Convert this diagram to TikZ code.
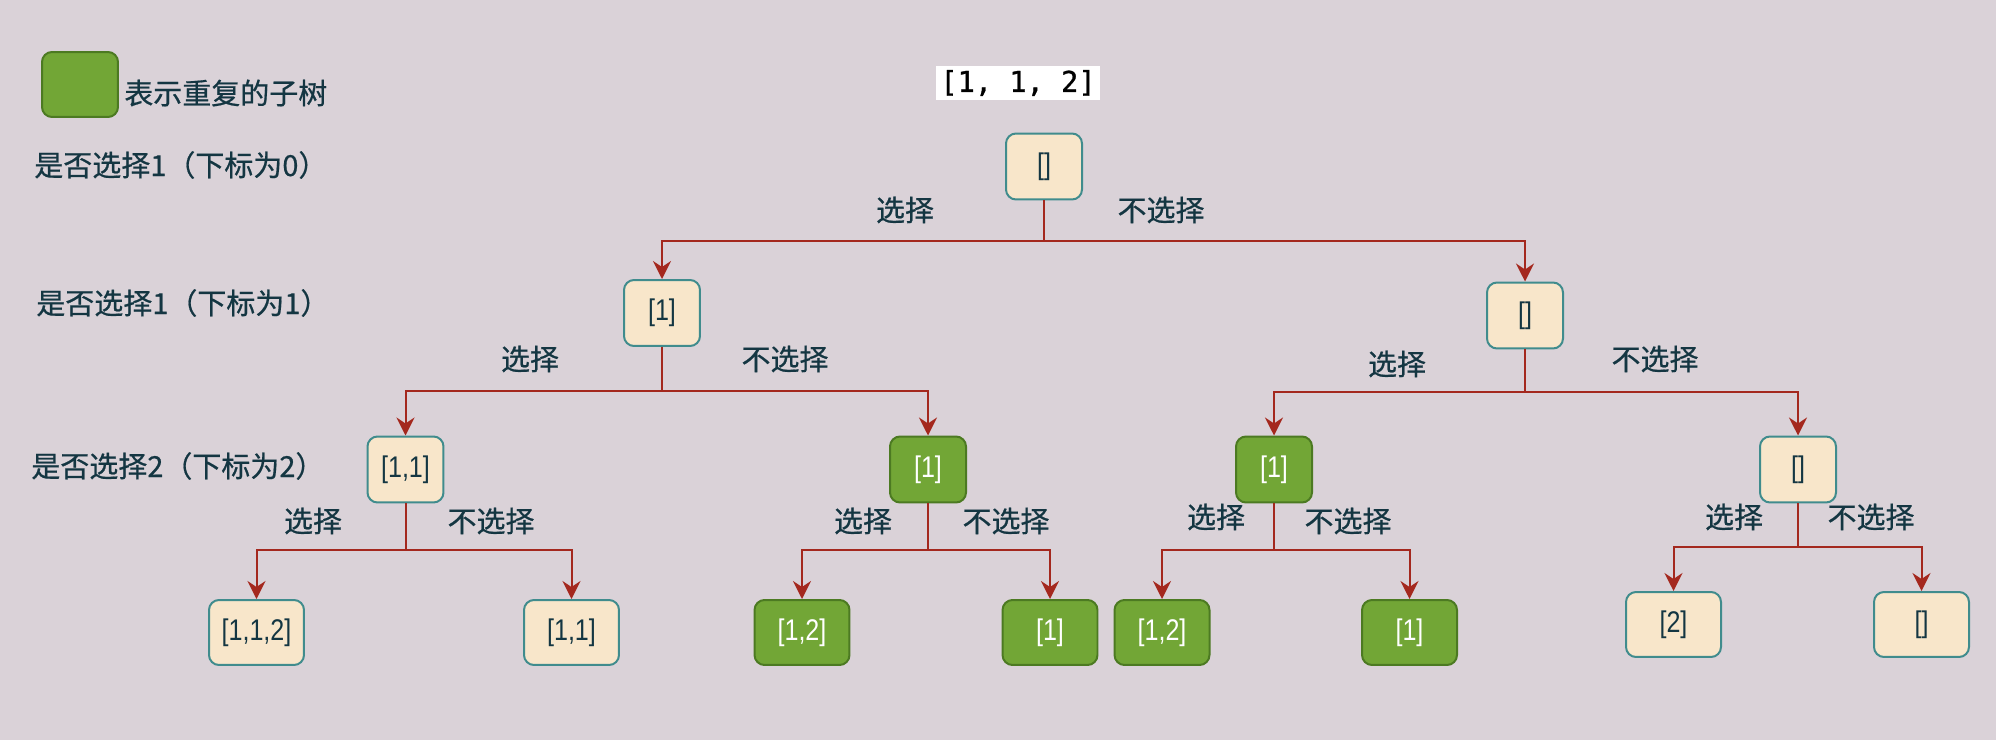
\documentclass[tikz,border=0pt]{standalone}
\usepackage{fontspec}
\usetikzlibrary{positioning,arrows.meta}
\setmainfont{Liberation Sans}
\newfontfamily\cjk[FakeBold=0.6]{Noto Sans CJK SC}
\newfontfamily\boxfont[FakeStretch=0.84]{Liberation Sans}
\newfontfamily\codefont[FakeBold=1]{DejaVu Sans Mono}
\definecolor{PageBack}{RGB}{218,210,216}
\definecolor{CellFill}{RGB}{248,230,202}
\definecolor{CellEdge}{RGB}{64,140,141}
\definecolor{InkNavy}{RGB}{20,54,66}
\definecolor{EdgeRed}{RGB}{164,40,30}
\definecolor{RepeatGreen}{RGB}{114,166,54}
\definecolor{RepeatEdge}{RGB}{76,122,34}
\tikzset{
  branch/.style={-{Stealth[length=0.36cm,width=0.36cm,inset=0.12cm]},line width=0.04cm,draw=EdgeRed},
  cell/.style={draw=CellEdge,fill=CellFill,rounded corners=0.2cm,line width=0.04cm,
    minimum width=1.52cm,minimum height=1.32cm,text=InkNavy,font=\boxfont\fontsize{17}{20}\selectfont},
  leaf/.style={cell,minimum width=1.9cm,minimum height=1.3cm},
  dupcell/.style={draw=RepeatEdge,fill=RepeatGreen,text=white},
  lbl/.style={text=InkNavy,font=\cjk\fontsize{16.5}{19}\selectfont,inner sep=0pt}
}
\begin{document}
\begin{tikzpicture}[x=0.02cm,y=-0.02cm]
  \fill[PageBack] (0,0) rectangle (1996,740);
  % legend and level notes
  \node[cell,dupcell,minimum height=1.3cm] (legend) at (80,84.5) {};
  \node[lbl,anchor=west] (legendtxt) at (124,93) {表示重复的子树};
  \node[lbl,anchor=west] (lvl0) at (34,165) {是否选择1（下标为0）};
  \node[lbl,anchor=west] (lvl1) at (36,303) {是否选择1（下标为1）};
  \node[lbl,anchor=west] (lvl2) at (31,466) {是否选择2（下标为2）};
  \node[fill=white,minimum width=3.28cm,minimum height=0.68cm,inner sep=0pt,
    font=\codefont\fontsize{16.3}{18}\selectfont] (input) at (1018,83) {[1, 1, 2]};
  % tree
  \node[cell] (root) at (1044,166.5) {[]};
  \node[cell] (a) at (662,313) {[1]};
  \node[cell] (b) at (1525,315.5) {[]};
  \node[cell] (aa) at (405.5,469.5) {[1,1]};
  \node[cell,dupcell] (ab) at (928,469.5) {[1]};
  \node[cell,dupcell] (ba) at (1274,469.5) {[1]};
  \node[cell] (bb) at (1798,469.5) {[]};
  \node[leaf] (aaa) at (256.5,632.5) {[1,1,2]};
  \node[leaf] (aab) at (571.5,632.5) {[1,1]};
  \node[leaf,dupcell] (aba) at (802,632.5) {[1,2]};
  \node[leaf,dupcell] (abb) at (1050,632.5) {[1]};
  \node[leaf,dupcell] (baa) at (1162,632.5) {[1,2]};
  \node[leaf,dupcell] (bab) at (1409.5,632.5) {[1]};
  \node[leaf] (bba) at (1673.5,624.5) {[2]};
  \node[leaf] (bbb) at (1921.5,624.5) {[]};
  % junctions
  \coordinate (jroot) at (1044,241);
  \coordinate (ja) at (662,391);
  \coordinate (jb) at (1525,392);
  \coordinate (jaa) at (405.5,550);
  \coordinate (jab) at (928,550);
  \coordinate (jba) at (1274,550);
  \coordinate (jbb) at (1798,547);
  \draw[branch] (root.south) -- (jroot) -| (a.north);
  \draw[branch] (root.south) -- (jroot) -| (b.north);
  \draw[branch] (a.south) -- (ja) -| (aa.north);
  \draw[branch] (a.south) -- (ja) -| (ab.north);
  \draw[branch] (b.south) -- (jb) -| (ba.north);
  \draw[branch] (b.south) -- (jb) -| (bb.north);
  \draw[branch] (aa.south) -- (jaa) -| (aaa.north);
  \draw[branch] (aa.south) -- (jaa) -| (aab.north);
  \draw[branch] (ab.south) -- (jab) -| (aba.north);
  \draw[branch] (ab.south) -- (jab) -| (abb.north);
  \draw[branch] (ba.south) -- (jba) -| (baa.north);
  \draw[branch] (ba.south) -- (jba) -| (bab.north);
  \draw[branch] (bb.south) -- (jbb) -| (bba.north);
  \draw[branch] (bb.south) -- (jbb) -| (bbb.north);
  % choice labels
  \node[lbl] (pickroot) at (905,210) {选择};
  \node[lbl] (skiproot) at (1161,210) {不选择};
  \node[lbl] (picka) at (530,359) {选择};
  \node[lbl] (skipa) at (785,359) {不选择};
  \node[lbl] (pickb) at (1397,364) {选择};
  \node[lbl] (skipb) at (1655,359) {不选择};
  \node[lbl] (pickaa) at (313,521) {选择};
  \node[lbl] (skipaa) at (491,521) {不选择};
  \node[lbl] (pickab) at (863,521) {选择};
  \node[lbl] (skipab) at (1006,521) {不选择};
  \node[lbl] (pickba) at (1216,517) {选择};
  \node[lbl] (skipba) at (1348,521) {不选择};
  \node[lbl] (pickbb) at (1734,517) {选择};
  \node[lbl] (skipbb) at (1871,517) {不选择};
\end{tikzpicture}
\end{document}
